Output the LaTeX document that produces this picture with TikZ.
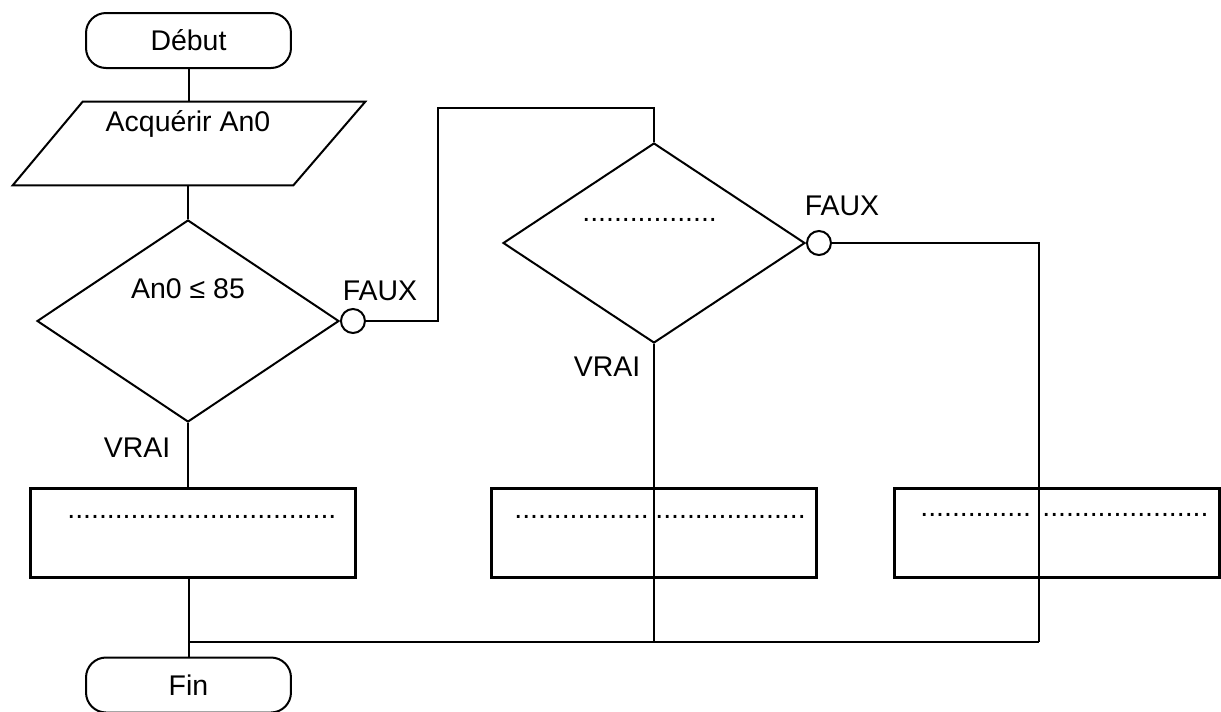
\documentclass[tikz,border=0pt]{standalone}
\usepackage{fontspec}
\setmainfont{Liberation Sans}
\usepackage{tikz}
\usetikzlibrary{shapes,positioning,calc}

\begin{document}
\begin{tikzpicture}[
      x=0.02cm, y=-0.02cm,
      font=\fontsize{16.2}{19}\selectfont,
      lien/.style={line width=0.04cm},
      term/.style={draw, line width=0.04cm, rounded corners=0.4cm,
        minimum width=4.1cm, minimum height=1.1cm, inner sep=0pt},
      entree/.style={minimum width=4.2cm, text height=0.58cm,
        text depth=1.08cm, inner sep=0pt},
      test/.style={diamond, draw, line width=0.04cm, minimum width=6.04cm,
        minimum height=4.04cm, inner sep=0pt},
      traitement/.style={draw, line width=0.06cm, minimum width=6.52cm,
        minimum height=1.78cm, inner sep=0pt},
      sortie/.style={circle, draw, line width=0.04cm, minimum size=0.48cm,
        inner sep=0pt},
      txt/.style={anchor=base, inner sep=0pt},
      pts/.style={anchor=base west, inner sep=0pt}
    ]
      \useasboundingbox (0,0) rectangle (1221,711);

      % Blocs de la colonne de gauche
      \node[term] (debut) at (188.5,40.5) {Début};
      \node[entree] (acq) at (188,143.5) {Acquérir An0};
      \draw[lien] (acq.north west) -- ([xshift=1.44cm]acq.north east)
        -- (acq.south east) -- ([xshift=-1.4cm]acq.south west) -- cycle;

      \node[test] (test1) at (188,321) {};
      \node[txt] at (188,298) {An0 ≤ 85};
      \node[sortie, right=0pt of test1] (faux1) {};
      \node[txt] at (380,300) {FAUX};
      \node[txt] at (137,457) {VRAI};

      \node[traitement] (trait1) at (193,532.5) {};
      \node[pts] at (67,518) {..................................};

      \node[term] (fin) at (188.5,685) {Fin};

      % Second test
      \node[test, minimum height=4cm] (test2) at (654,243) {};
      \node[pts] at (582,221) {.................};
      \node[sortie, right=0pt of test2] (faux2) {};
      \node[txt] at (842,215) {FAUX};
      \node[txt] at (607,376) {VRAI};

      \node[traitement] (trait2) at (654,532.5) {};
      \node[pts] at (514,518) {.................};
      \node[pts] at (655,518) {...................};

      \node[traitement, minimum width=6.5cm] (trait3) at (1057,532.5) {};
      \node[pts] at (920,516) {..............};
      \node[pts] at (1042,516) {.....................};

      \coordinate (coude) at (438,108);
      \coordinate (jonction) at (1039,642);

      % Liaisons
      \draw[lien] (debut.south) -- (debut.south |- acq.north);
      \draw[lien] (test1.north |- acq.south) -- (test1.north);
      \draw[lien] (test1.south) -- (test1.south |- trait1.north);
      \draw[lien] (fin.north |- trait1.south) -- (fin.north);
      \draw[lien] (faux1.east) -| (coude) -| (test2.north);
      \draw[lien] (faux2.east) -| (jonction);
      \draw[lien] (test2.south) -- (test2.south |- jonction);
      \draw[lien] (fin.north |- jonction) -- (jonction);
    \end{tikzpicture}
\end{document}
